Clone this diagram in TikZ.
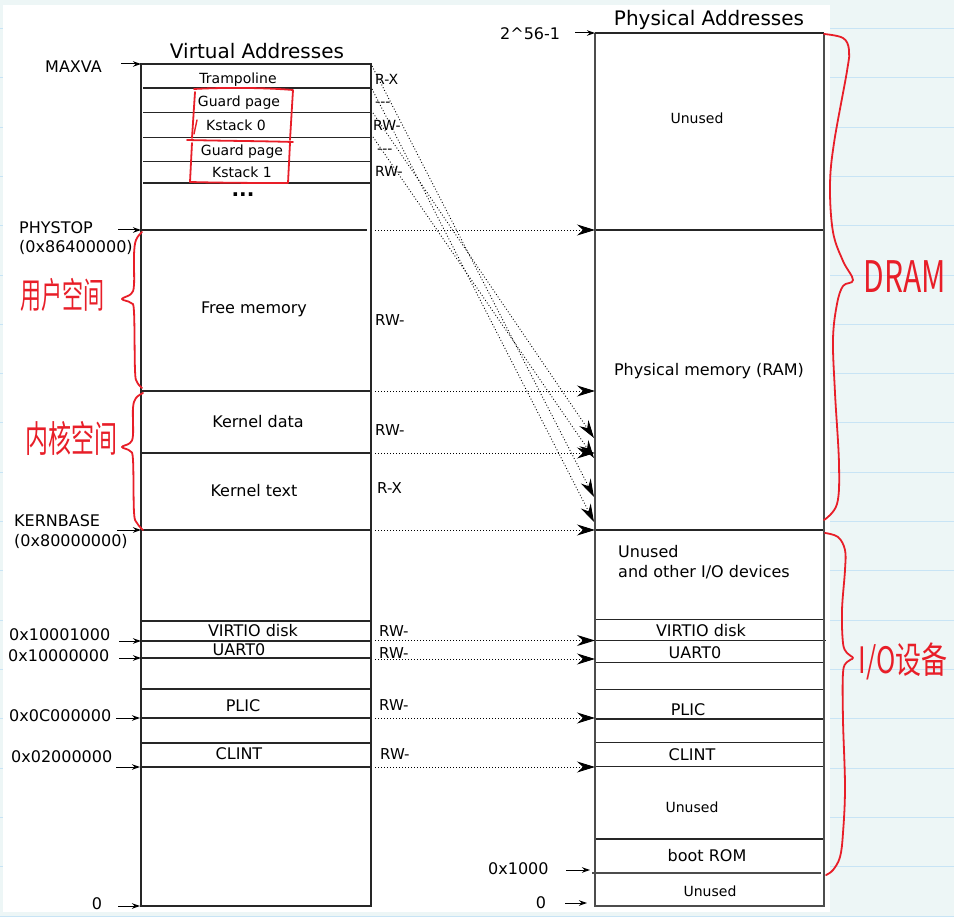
\documentclass[tikz,border=0pt]{standalone}
\usepackage{graphicx}
\usepackage{fontspec}
\setmainfont{DejaVu Sans}
\newfontfamily\handfont{Noto Sans CJK SC}
\usetikzlibrary{arrows.meta}
\definecolor{pagebg}{RGB}{237,246,246}
\definecolor{ruleblue}{RGB}{200,228,245}
\definecolor{inkred}{RGB}{232,30,40}
\newcommand\fsbig{\fontsize{20}{24}\selectfont}
\newcommand\fsmid{\fontsize{16}{20}\selectfont}
\newcommand\fsperm{\fontsize{15}{18}\selectfont}
\newcommand\fssmall{\fontsize{14}{17}\selectfont}
\begin{document}
\begin{tikzpicture}[x=1pt,y=-1pt,
  t20/.style={font=\fsbig, inner sep=0pt, text height=14.6pt, text depth=0pt},
  t16/.style={font=\fsmid, inner sep=0pt, text height=11.7pt, text depth=0pt},
  t15/.style={font=\fsperm, inner sep=0pt, text height=10.9pt, text depth=0pt},
  t14/.style={font=\fssmall, inner sep=0pt, text height=10.2pt, text depth=0pt},
  boxedge/.style={line width=1.6pt, draw=black!85},
  pedge/.style={line width=2.4pt, draw=black!70},
  sepline/.style={line width=1.1pt, draw=black!85},
  ptr/.style={line width=1pt, -{Stealth[length=8pt,width=5.5pt,inset=2.5pt]}},
  maparrow/.style={line width=0.9pt, dash pattern=on 0.9pt off 2.1pt, -{Stealth[length=18pt,width=11pt,inset=6pt]}},
  ink/.style={draw=inkred, line width=1.8pt, line cap=round, line join=round},
  hand/.style={text=inkred, inner sep=0pt},
]
\useasboundingbox (0,0) rectangle (954,917);
% notebook page
\fill[pagebg] (0,0) rectangle (954,917);
\foreach \k in {0,...,18} \draw[ruleblue, line width=1pt] (0,{28.6+49.3*\k}) -- (954,{28.6+49.3*\k});
\fill[white] (3,5) rectangle (830,912);

% ---------------- virtual address space ----------------
\draw[boxedge] (141,64) rectangle (371,906);
\foreach \y in {88,112.5,137.5,161.5,183} \draw[sepline] (143,\y) -- (371,\y);
\draw[sepline] (141,230) -- (367,230);
\foreach \y in {391,453,530,621,641,658,689,718,743,767} \draw[sepline] (141,\y) -- (371,\y);

\node[t20] (vtitle) at (257,51) {Virtual Addresses};
\node[t14] (tramp) at (238,78) {Trampoline};
\node[t14] (guarda) at (239,101) {Guard page};
\node[t14] (kstacka) at (236,125) {Kstack 0};
\node[t14] (guardb) at (242,150) {Guard page};
\node[t14] (kstackb) at (242,172) {Kstack 1};
\node[font=\fontsize{20}{20}\selectfont\bfseries, inner sep=0pt, anchor=base, text height=3.5pt, text depth=0pt] (vdots) at (243,197) {...};
\node[t16] (freemem) at (254,308) {Free memory};
\node[t16] (kdata) at (258,422) {Kernel data};
\node[t16] (ktext) at (254,491) {Kernel text};
\node[t16] (vvirtio) at (253,631) {VIRTIO disk};
\node[t16] (vuart) at (239,650) {UART0};
\node[t16] (vplic) at (243,706) {PLIC};
\node[t16] (vclint) at (239,754) {CLINT};

% permissions
\node[t14, anchor=west] (pa) at (375,79) {R-X};
\node[t14, anchor=west] (pb) at (375,101) {-{}-{}-};
\node[t14, anchor=west] (pc) at (373,125) {RW-};
\node[t14, anchor=west] (pd) at (377,148) {-{}-{}-};
\node[t14, anchor=west] (pe) at (375,171) {RW-};
\node[t15, anchor=west] (pf) at (375,320) {RW-};
\node[t15, anchor=west] (pg) at (375,430) {RW-};
\node[t15, anchor=west] (ph) at (377,488) {R-X};
\node[t15, anchor=west] (pi) at (379,631) {RW-};
\node[t15, anchor=west] (pj) at (379,653) {RW-};
\node[t15, anchor=west] (pk) at (379,705) {RW-};
\node[t15, anchor=west] (pl) at (380,754) {RW-};

% left labels
\node[t16, anchor=west] (maxva) at (45,67) {MAXVA};
\node[t16, anchor=west] (phystop) at (19,228) {PHYSTOP};
\node[t16, anchor=west] (phystopv) at (19,247) {(0x86400000)};
\node[t16, anchor=west] (kernbase) at (14,521) {KERNBASE};
\node[t16, anchor=west] (kernbasev) at (14,541) {(0x80000000)};
\node[t16, anchor=west] (avirtio) at (9,635) {0x10001000};
\node[t16, anchor=west] (auart) at (8,656) {0x10000000};
\node[t16, anchor=west] (aplic) at (9,716) {0x0C000000};
\node[t16, anchor=west] (aclint) at (11,757) {0x02000000};
\node[t16] (azero) at (97,904) {0};

\coordinate (la1) at (121,64);  \coordinate (lb1) at (141,64);
\coordinate (la2) at (118,230); \coordinate (lb2) at (141,230);
\coordinate (la3) at (117,530); \coordinate (lb3) at (141,530);
\coordinate (la4) at (119,641); \coordinate (lb4) at (141,641);
\coordinate (la5) at (119,658); \coordinate (lb5) at (141,658);
\coordinate (la6) at (116,718); \coordinate (lb6) at (140,718);
\coordinate (la7) at (116,767); \coordinate (lb7) at (140,767);
\coordinate (la8) at (118,906); \coordinate (lb8) at (140,906);
\foreach \i in {1,...,8} \draw[ptr] (la\i) -- (lb\i);

% ---------------- physical address space ----------------
\draw[sepline] (595,230) -- (824,230);
\draw[sepline] (595,530) -- (824,530);
\foreach \y in {619.5,662.5,689.5,719,742.5,766.5,839} \draw[sepline] (595,\y) -- (824,\y);
\draw[sepline] (595,640.5) -- (826,640.5);
\draw[sepline, draw=black!70] (592,873) -- (821,873);
\draw[pedge] (595,33) -- (595,906) -- (824,906) -- (824,33);
\draw[boxedge] (595,33) -- (824,33);

\node[t20] (ptitle) at (709,18) {Physical Addresses};
\node[t14] (unuseda) at (697,118) {Unused};
\node[t16] (ram) at (709,370) {Physical memory (RAM)};
\node[t16, anchor=west] (iounused) at (618,552) {Unused};
\node[t16, anchor=west] (iodev) at (618,572) {and other I/O devices};
\node[t16] (pvirtio) at (701,631) {VIRTIO disk};
\node[t16] (puart) at (695,653) {UART0};
\node[t16] (pplic) at (688,710) {PLIC};
\node[t16] (pclint) at (692,755) {CLINT};
\node[t14] (unusedb) at (692,807) {Unused};
\node[t16] (bootrom) at (707,856) {boot ROM};
\node[t14] (unusedc) at (710,891) {Unused};

\node[t16, anchor=west] (ptop) at (500,34) {2\textasciicircum56-1};
\node[t16, anchor=west] (p1000) at (488,869) {0x1000};
\node[t16] (pzero) at (541,903) {0};
\coordinate (ra1) at (575,33);  \coordinate (rb1) at (595,33);
\coordinate (ra2) at (566,870); \coordinate (rb2) at (590,870);
\coordinate (ra3) at (565,903); \coordinate (rb3) at (587,903);
\foreach \i in {1,2,3} \draw[ptr] (ra\i) -- (rb\i);

% ---------------- mappings ----------------
\foreach \n/\y in {a/230,b/391,c/453,d/530,e/640.5,f/659,g/718,h/767} {
  \coordinate (vm\n) at (375,\y);
  \coordinate (pm\n) at (595,\y);
  \draw[maparrow] (vm\n) -- (pm\n);
}
\coordinate (ds1) at (372,66);  \coordinate (de1) at (594,497);
\coordinate (ds2) at (372,89);  \coordinate (de2) at (594,522);
\coordinate (ds3) at (373,113); \coordinate (de3) at (594,438);
\coordinate (ds4) at (373,137); \coordinate (de4) at (594,458);
\foreach \i in {1,...,4} \draw[maparrow] (ds\i) -- (de\i);

% ---------------- red annotations ----------------
\draw[ink] (194,89) .. controls (230,87) and (270,88) .. (293,90) -- (290,140);
\draw[ink] (195,92) -- (192,138);
\draw[ink] (187,140) .. controls (230,141) and (260,141) .. (293,142);
\draw[ink] (192,143) -- (190,182) .. controls (230,183) and (260,183) .. (288,183) -- (290,143);
\draw[ink, line width=1.4pt] (197,120) -- (194,134);

\draw[ink] plot[smooth, tension=0.6] coordinates {(142,232) (136,240) (134,255) (134,285) (131,294) (122,299) (131,303) (134,312) (135,370) (137,382) (142,388)};
\draw[ink] plot[smooth, tension=0.6] coordinates {(143,393) (136,398) (133,408) (133,435) (130,443) (122,447) (130,451) (133,460) (134,512) (137,523) (143,530)};
\draw[ink] plot[smooth, tension=0.6] coordinates {(824,34) (843,38) (849,50) (847,71) (834,143) (830,186) (833,232) (843,261) (853,280) (843,286) (837,304) (833,339) (835,393) (839,464) (837,504) (824,520)};
\draw[ink] plot[smooth, tension=0.6] coordinates {(825,533) (838,537) (845,550) (845,570) (842,610) (843,643) (847,653) (853,658) (847,662) (843,673) (843,720) (845,787) (843,833) (840,857) (833,870) (826,875)};

\node[hand] (userspace) at (62,295) {\scalebox{1}[1.7]{\handfont\fontsize{21}{21}\selectfont 用户空间}};
\node[hand] (kernspace) at (71,438) {\scalebox{1}[1.6]{\handfont\fontsize{23}{23}\selectfont 内核空间}};
\node[hand] (dram) at (905,277) {\scalebox{1}[1.45]{\handfont\fontsize{30}{30}\selectfont DRAM}};
\node[hand] (iodevs) at (903,661) {\scalebox{1}[1.4]{\handfont\fontsize{26}{26}\selectfont I/O设备}};
\end{tikzpicture}
\end{document}
